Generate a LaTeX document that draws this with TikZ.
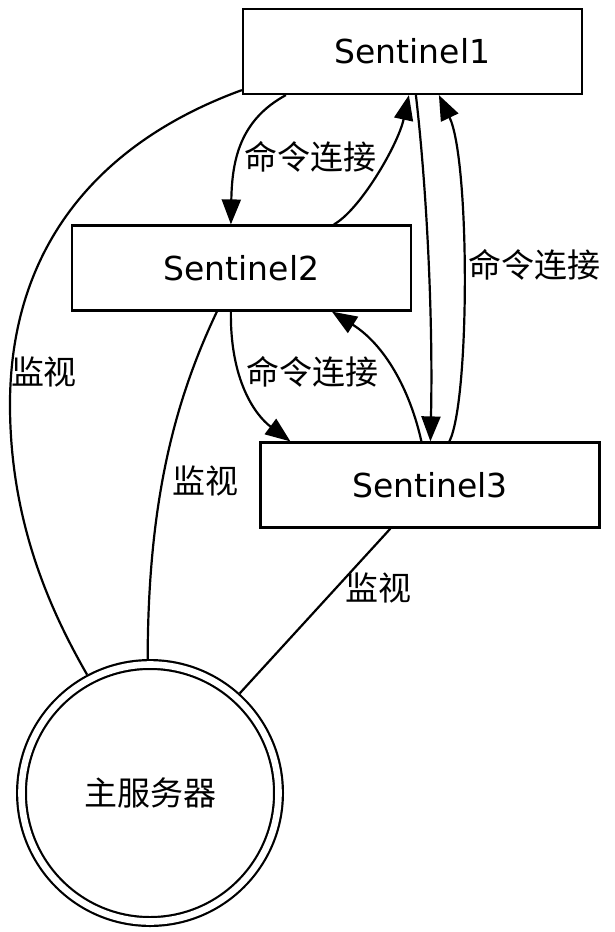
\documentclass[tikz,border=0pt]{standalone}
\usepackage{fontspec}
\setmainfont{DejaVu Sans}
\newfontfamily\cjk{Noto Sans CJK SC}
\usetikzlibrary{arrows.meta}
\begin{document}
\begin{tikzpicture}[x=1pt,y=-1pt,
  box/.style={draw, line width=2.2pt, rectangle, minimum width=339pt, minimum height=85pt, inner sep=0pt, font=\fontsize{33}{40}\selectfont},
  master/.style={circle, draw, line width=2.2pt, double, double distance=6.6pt, minimum size=257pt, inner sep=0pt, outer sep=5.5pt, font=\cjk\fontsize{33}{40}\selectfont},
  cmd/.style={line width=2.2pt, -{Triangle[length=25pt,width=19pt]}},
  mon/.style={line width=2.2pt},
  lbl/.style={inner sep=0pt, font=\cjk\fontsize{33}{40}\selectfont}]
\fill[white] (0,0) rectangle (614,932);
\useasboundingbox (0,0) rectangle (614,932);

\node[box] (S1) at (412.5,51.5) {Sentinel1};
\node[box] (S2) at (241.5,268) {Sentinel2};
\node[box] (S3) at (430,485) {Sentinel3};
\node[master] (M) at (150,793) {主服务器};

% command connections
\draw[cmd] ([xshift=44pt]S1.south west) .. controls (240,120) and (232,160) .. ([xshift=160pt]S2.north west);
\draw[cmd] ([xshift=263pt]S2.north west) .. controls (360,210) and (398,145) .. ([xshift=167pt]S1.south west);
\draw[cmd] ([xshift=174pt]S1.south west) .. controls (428,200) and (433,330) .. ([xshift=171pt]S3.north west);
\draw[cmd] ([xshift=190pt]S3.north west) .. controls (470,400) and (470,160) .. ([xshift=197pt]S1.south west);
\draw[cmd] ([xshift=160pt]S2.south west) .. controls (230,380) and (255,415) .. ([xshift=31pt]S3.north west);
\draw[cmd] ([xshift=162pt]S3.north west) .. controls (410,390) and (385,345) .. ([xshift=261pt]S2.south west);

% monitor connections
\coordinate (m1) at (10,400);
\draw[mon] ([yshift=5pt]S1.south west) .. controls (105,140) and (12,240) .. (m1) .. controls (9,520) and (50,610) .. (M.118);
\draw[mon] ([xshift=146pt]S2.south west) .. controls (175,400) and (148,500) .. (M.91);
\draw[mon] ([xshift=131pt]S3.south west) -- (M.48);

% labels
\node[lbl] (l1) at (310,157) {命令连接};
\node[lbl] (l2) at (312,372) {命令连接};
\node[lbl] (l3) at (534,265) {命令连接};
\node[lbl] (l4) at (44,372) {监视};
\node[lbl] (l5) at (205,481) {监视};
\node[lbl] (l6) at (378,588) {监视};
\end{tikzpicture}
\end{document}
